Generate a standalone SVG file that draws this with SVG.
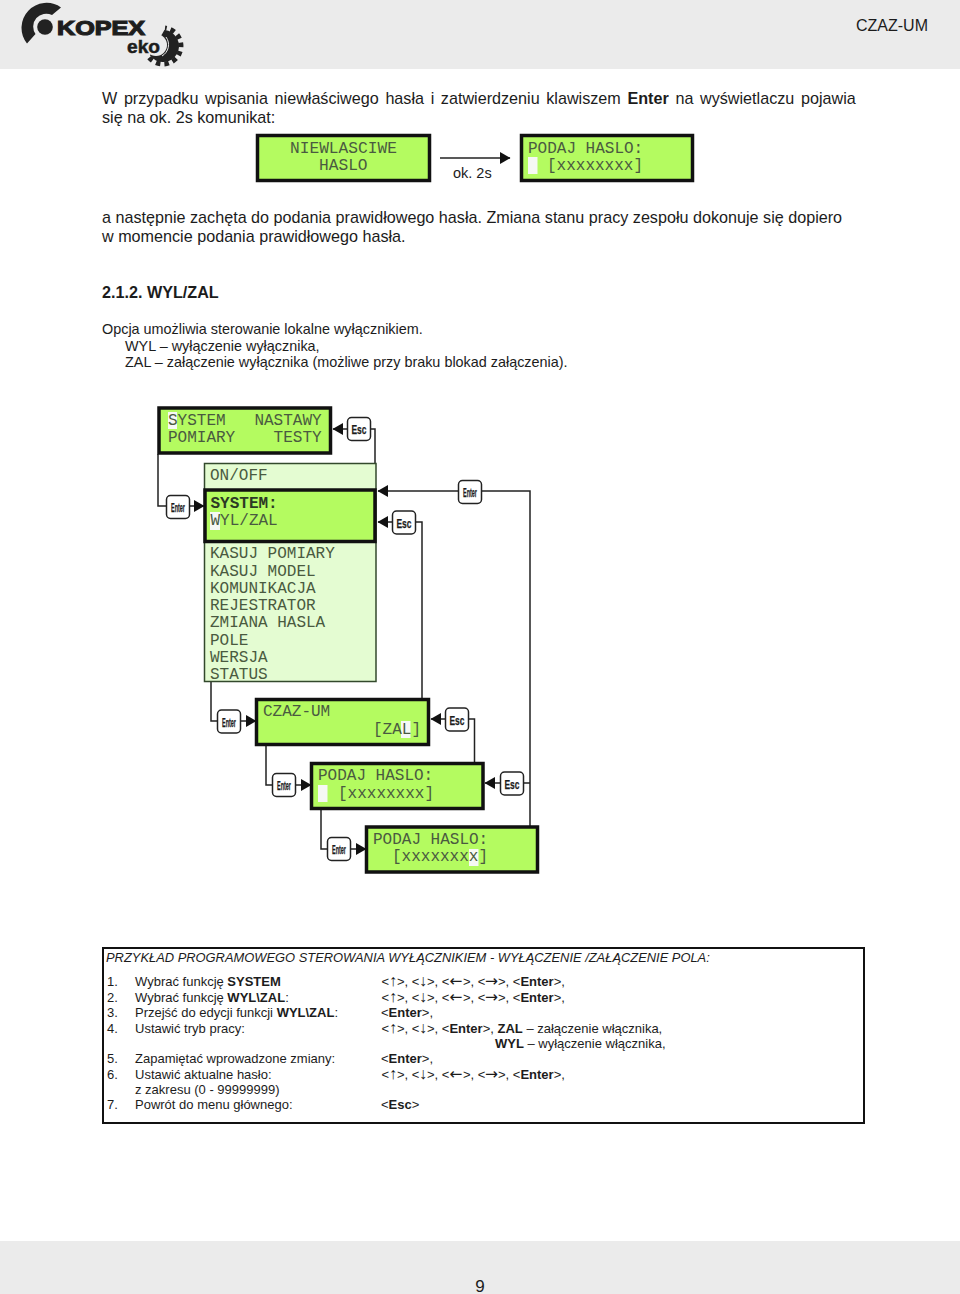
<svg xmlns="http://www.w3.org/2000/svg" width="960" height="1294" viewBox="0 0 960 1294">
<style>
text{font-family:"Liberation Sans",Arial,sans-serif;fill:#1c1c1c}
.b{font-size:16.17px}
.m{font-size:14.4px}
.s{font-size:13px}
.bold{font-weight:700}
.ud{font-size:16px}
.lr{font-family:"DejaVu Sans",sans-serif;font-size:15.500px}
.lcd{font-family:"Liberation Mono","Courier New",monospace;font-size:16px;fill:#4a5a40;white-space:pre}
.g{fill:#b4fb60;stroke:#111;stroke-width:3.5}
.lt{fill:#e4fcd2;stroke:#33492c;stroke-width:1.5}
.key{fill:#fff;stroke:#222;stroke-width:1.5}
.kt{font-weight:700;font-size:13px;text-anchor:middle;stroke:#1c1c1c;stroke-width:.25}
.c{fill:none;stroke:#222;stroke-width:1.5}
.cur{fill:#f6f8f4}
</style>
<defs>
<marker id="ah" markerUnits="userSpaceOnUse" markerWidth="11" markerHeight="12" refX="10" refY="6" orient="auto"><path d="M0 0L10.500 6L0 12Z" fill="#111"/></marker>
</defs>
<rect width="960" height="69" fill="#ebebeb"/>
<rect y="1241" width="960" height="53" fill="#ebebeb"/>
<g id="logo">
<path d="M61 7.500A25 25 0 0 0 27 43.500L35.500 34A13 13 0 0 1 52 15Z" fill="#222"/>
<circle cx="45" cy="27" r="7.800" fill="#222"/>
<text x="57" y="35" font-size="20" font-weight="700" textLength="88" lengthAdjust="spacingAndGlyphs" stroke="#222" stroke-width="1.200">KOPEX</text>
<path d="M149.900 55.200A16 16 0 1 0 164.400 30.100Z" fill="#222"/>
<path d="M149.200 57.600A18 18 0 1 0 165 28.100" fill="none" stroke="#222" stroke-width="5" stroke-dasharray="4.500 4"/>
<circle cx="156" cy="45" r="11" fill="#ebebeb"/>
<path d="M166 37A13 13 0 0 1 162 56" fill="none" stroke="#ebebeb" stroke-width="1"/>
<text x="127" y="53" font-size="19" font-weight="700" textLength="33" lengthAdjust="spacingAndGlyphs" stroke="#222" stroke-width=".5">eko</text>
</g>
<text x="928" y="31" font-size="16" text-anchor="end" fill="#222">CZAZ-UM</text>
<g id="body">
<text class="b" x="102" y="104" word-spacing="2.15">W przypadku wpisania niewłaściwego hasła i zatwierdzeniu klawiszem <tspan class="bold">Enter</tspan> na wyświetlaczu pojawia</text>
<text class="b" x="102" y="123">się na ok. 2s komunikat:</text>
<text class="b" x="102" y="223">a następnie zachęta do podania prawidłowego hasła. Zmiana stanu pracy zespołu dokonuje się dopiero</text>
<text class="b" x="102" y="242">w momencie podania prawidłowego hasła.</text>
<text class="b bold" x="102" y="298">2.1.2. WYL/ZAL</text>
<text class="m" x="102" y="334">Opcja umożliwia sterowanie lokalne wyłącznikiem.</text>
<text class="m" x="125" y="351">WYL – wyłączenie wyłącznika,</text>
<text class="m" x="125" y="367">ZAL – załączenie wyłącznika (możliwe przy braku blokad załączenia).</text>
</g>
<g id="connectors">
<path class="c" d="M440 158H510" marker-end="url(#ah)"/>
<path class="c" d="M158 454V506H166"/>
<path class="c" d="M189 506H204" marker-end="url(#ah)"/>
<path class="c" d="M347 429H333" marker-end="url(#ah)"/>
<path class="c" d="M371 429H375V463"/>
<path class="c" d="M458 491H378" marker-end="url(#ah)"/>
<path class="c" d="M481 491H530V826"/>
<path class="c" d="M392 522H378" marker-end="url(#ah)"/>
<path class="c" d="M416 522H422V698"/>
<path class="c" d="M211 682V721H217"/>
<path class="c" d="M240 721H256" marker-end="url(#ah)"/>
<path class="c" d="M445 719H431" marker-end="url(#ah)"/>
<path class="c" d="M469 719H474.500V762"/>
<path class="c" d="M266 746V785H272"/>
<path class="c" d="M295 785H311" marker-end="url(#ah)"/>
<path class="c" d="M500 783H485" marker-end="url(#ah)"/>
<path class="c" d="M524 783H530"/>
<path class="c" d="M321 810V849H327"/>
<path class="c" d="M350 849H366" marker-end="url(#ah)"/>
</g>
<g id="lcd-niewlasciwe"><rect class="g" x="257.500" y="135.500" width="172" height="45"/>
<text class="lcd" x="290" y="153" style="font-size:16.200px">NIEWLASCIWE</text><text class="lcd" x="319" y="170" style="font-size:16.200px">HASLO</text></g>
<text id="label-2s" x="453" y="178" font-size="14.500">ok. 2s</text>
<g id="lcd-haslo0"><rect class="g" x="521.500" y="135.500" width="171" height="45"/><rect class="cur" x="528" y="157" width="9.500" height="17"/>
<text class="lcd" x="528" y="153">PODAJ HASLO:</text><text class="lcd" x="547" y="170">[xxxxxxxx]</text></g>
<g id="lcd-menu"><rect class="g" x="159" y="408" width="171.500" height="45"/><rect class="cur" x="168" y="412" width="9" height="17"/>
<text class="lcd" x="168" y="425">SYSTEM   NASTAWY</text><text class="lcd" x="168" y="442">POMIARY    TESTY</text></g>
<g id="key-esc1"><rect class="key" x="347.500" y="417.500" width="23" height="23" rx="4"/><text class="kt" x="359" y="433.500" textLength="15" lengthAdjust="spacingAndGlyphs">Esc</text></g>
<g id="list"><rect class="lt" x="204.500" y="463.500" width="171.500" height="218"/>
<text class="lcd" x="210" y="480">ON/OFF</text>
<text class="lcd" x="210" y="558">KASUJ POMIARY</text>
<text class="lcd" x="210" y="575.500">KASUJ MODEL</text>
<text class="lcd" x="210" y="593">KOMUNIKACJA</text>
<text class="lcd" x="210" y="610">REJESTRATOR</text>
<text class="lcd" x="210" y="627">ZMIANA HASLA</text>
<text class="lcd" x="210" y="645">POLE</text>
<text class="lcd" x="210" y="662">WERSJA</text>
<text class="lcd" x="210" y="679">STATUS</text></g>
<g id="lcd-system"><rect class="g" x="205" y="490" width="170" height="51.500"/><rect class="cur" x="210" y="512" width="10" height="18"/>
<text class="lcd" x="210.500" y="508" style="font-weight:700;fill:#2c3a24">SYSTEM:</text><text class="lcd" x="210.500" y="525">WYL/ZAL</text></g>
<g id="key-enter1"><rect class="key" x="166.500" y="495.500" width="23" height="23" rx="4"/><text class="kt" x="178" y="511.500" textLength="14" lengthAdjust="spacingAndGlyphs">Enter</text></g>
<g id="key-enter2"><rect class="key" x="458.500" y="480.500" width="23" height="23" rx="4"/><text class="kt" x="470" y="496.500" textLength="14" lengthAdjust="spacingAndGlyphs">Enter</text></g>
<g id="key-esc2"><rect class="key" x="392.500" y="511" width="23" height="23" rx="4"/><text class="kt" x="404" y="527.500" textLength="15" lengthAdjust="spacingAndGlyphs">Esc</text></g>
<g id="lcd-czaz"><rect class="g" x="256.500" y="699.500" width="172" height="45"/><rect class="cur" x="401" y="721" width="9.500" height="17"/>
<text class="lcd" x="263" y="716">CZAZ-UM</text><text class="lcd" x="373" y="734">[ZAL]</text></g>
<g id="key-enter3"><rect class="key" x="217.500" y="710" width="23" height="23" rx="4"/><text class="kt" x="229" y="726.500" textLength="14" lengthAdjust="spacingAndGlyphs">Enter</text></g>
<g id="key-esc3"><rect class="key" x="445.500" y="708" width="23" height="23" rx="4"/><text class="kt" x="457" y="724.500" textLength="15" lengthAdjust="spacingAndGlyphs">Esc</text></g>
<g id="lcd-haslo1"><rect class="g" x="311.500" y="763.500" width="171.500" height="45"/><rect class="cur" x="318" y="785" width="9.500" height="17"/>
<text class="lcd" x="318" y="780">PODAJ HASLO:</text><text class="lcd" x="338" y="798">[xxxxxxxx]</text></g>
<g id="key-enter4"><rect class="key" x="272.500" y="773.500" width="23" height="23" rx="4"/><text class="kt" x="284" y="790" textLength="14" lengthAdjust="spacingAndGlyphs">Enter</text></g>
<g id="key-esc4"><rect class="key" x="500.500" y="772" width="23" height="23" rx="4"/><text class="kt" x="512" y="788.500" textLength="15" lengthAdjust="spacingAndGlyphs">Esc</text></g>
<g id="lcd-haslo2"><rect class="g" x="366.500" y="827" width="171" height="45"/><rect class="cur" x="469" y="849" width="9.500" height="17"/>
<text class="lcd" x="373" y="844">PODAJ HASLO:</text><text class="lcd" x="392" y="861">[xxxxxxxx]</text></g>
<g id="key-enter5"><rect class="key" x="327.500" y="837.500" width="23" height="23" rx="4"/><text class="kt" x="339" y="853.500" textLength="14" lengthAdjust="spacingAndGlyphs">Enter</text></g>
<g id="example">
<rect x="103" y="948" width="761" height="175" fill="#fff" stroke="#111" stroke-width="2"/>
<text class="s" x="106" y="962" font-style="italic" style="font-size:12.900px">PRZYKŁAD PROGRAMOWEGO STEROWANIA WYŁĄCZNIKIEM - WYŁĄCZENIE /ZAŁĄCZENIE POLA:</text>
<text class="s" x="107" y="986">1.</text><text class="s" x="135" y="986">Wybrać funkcję <tspan class="bold">SYSTEM</tspan></text>
<text class="s" y="986"><tspan x="381.500">&lt;</tspan><tspan class="ud" x="389">↑</tspan><tspan x="397">&gt;, &lt;</tspan><tspan class="ud" x="419">↓</tspan><tspan x="427">&gt;, &lt;</tspan><tspan class="lr" x="449.500">←</tspan><tspan x="463">&gt;, &lt;</tspan><tspan class="lr" x="485">→</tspan><tspan x="498">&gt;, &lt;<tspan class="bold">Enter</tspan>&gt;,</tspan></text>
<text class="s" x="107" y="1002">2.</text><text class="s" x="135" y="1002">Wybrać funkcję <tspan class="bold">WYL\ZAL</tspan>:</text>
<text class="s" y="1002"><tspan x="381.500">&lt;</tspan><tspan class="ud" x="389">↑</tspan><tspan x="397">&gt;, &lt;</tspan><tspan class="ud" x="419">↓</tspan><tspan x="427">&gt;, &lt;</tspan><tspan class="lr" x="449.500">←</tspan><tspan x="463">&gt;, &lt;</tspan><tspan class="lr" x="485">→</tspan><tspan x="498">&gt;, &lt;<tspan class="bold">Enter</tspan>&gt;,</tspan></text>
<text class="s" x="107" y="1017">3.</text><text class="s" x="135" y="1017">Przejść do edycji funkcji <tspan class="bold">WYL\ZAL</tspan>:</text>
<text class="s" x="381" y="1017">&lt;<tspan class="bold">Enter</tspan>&gt;,</text>
<text class="s" x="107" y="1033">4.</text><text class="s" x="135" y="1033">Ustawić tryb pracy:</text>
<text class="s" y="1033"><tspan x="381.500">&lt;</tspan><tspan class="ud" x="389">↑</tspan><tspan x="397">&gt;, &lt;</tspan><tspan class="ud" x="419">↓</tspan><tspan x="427">&gt;, &lt;<tspan class="bold">Enter</tspan>&gt;, <tspan class="bold">ZAL</tspan> – załączenie włącznika,</tspan></text>
<text class="s" x="495" y="1048"><tspan class="bold">WYL</tspan> – wyłączenie włącznika,</text>
<text class="s" x="107" y="1063">5.</text><text class="s" x="135" y="1063">Zapamiętać wprowadzone zmiany:</text>
<text class="s" x="381" y="1063">&lt;<tspan class="bold">Enter</tspan>&gt;,</text>
<text class="s" x="107" y="1079">6.</text><text class="s" x="135" y="1079">Ustawić aktualne hasło:</text>
<text class="s" y="1079"><tspan x="381.500">&lt;</tspan><tspan class="ud" x="389">↑</tspan><tspan x="397">&gt;, &lt;</tspan><tspan class="ud" x="419">↓</tspan><tspan x="427">&gt;, &lt;</tspan><tspan class="lr" x="449.500">←</tspan><tspan x="463">&gt;, &lt;</tspan><tspan class="lr" x="485">→</tspan><tspan x="498">&gt;, &lt;<tspan class="bold">Enter</tspan>&gt;,</tspan></text>
<text class="s" x="135" y="1094">z zakresu (0 - 99999999)</text>
<text class="s" x="107" y="1109">7.</text><text class="s" x="135" y="1109">Powrót do menu głównego:</text>
<text class="s" x="381" y="1109">&lt;<tspan class="bold">Esc</tspan>&gt;</text>
</g>
<text x="480" y="1292" font-size="17" text-anchor="middle">9</text>
</svg>
